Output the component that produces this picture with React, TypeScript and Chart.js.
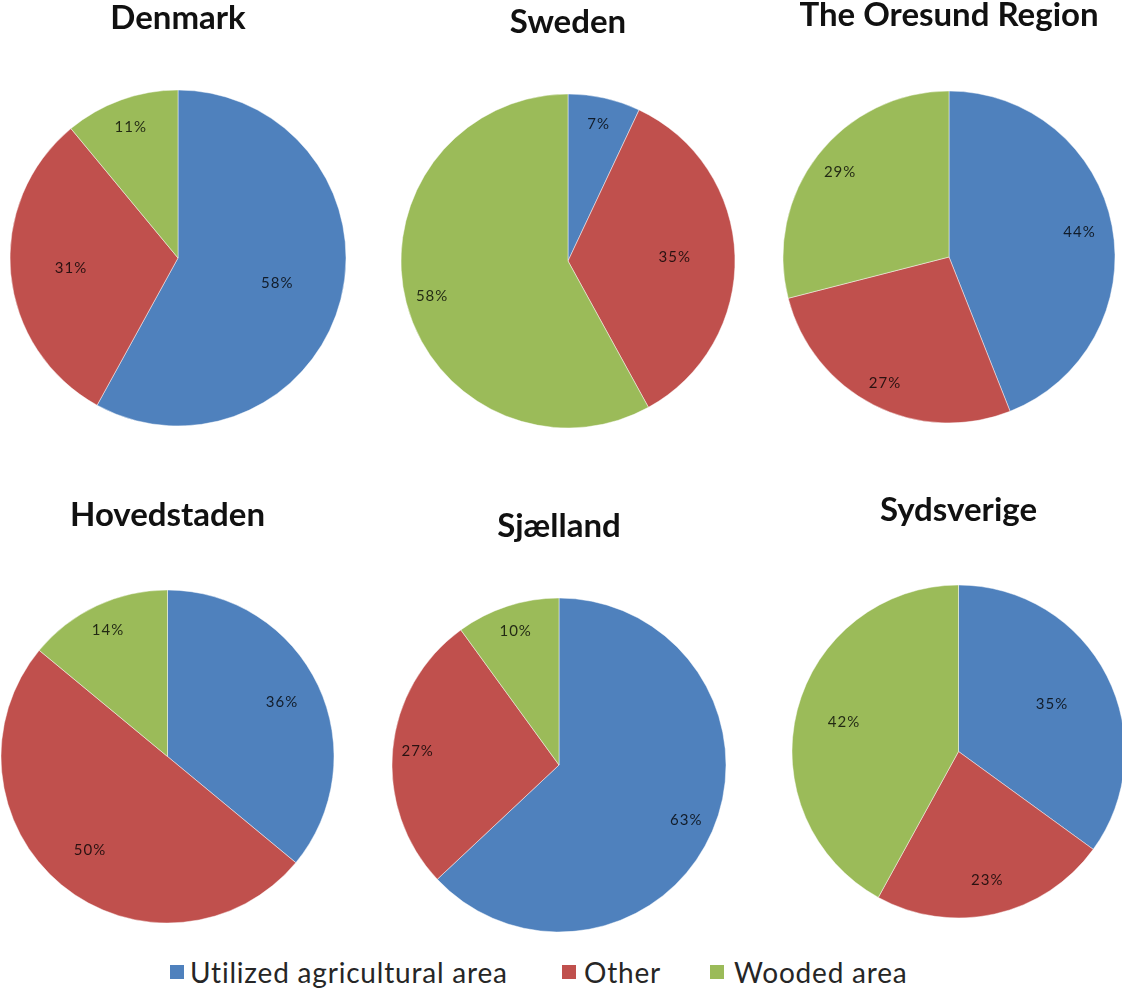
import React, { useEffect, useRef } from 'react';
import { Chart, registerables } from 'chart.js';

Chart.register(...registerables);

// ---- data ----
const categories = ['Utilized agricultural area', 'Other', 'Wooded area'];
const regionNames = ['Denmark', 'Sweden', 'The Oresund Region', 'Hovedstaden', 'Sjælland', 'Sydsverige'];

const denmarkShares = [58, 31, 11];
const swedenShares = [7, 35, 58];
const oresundShares = [44, 27, 29];
const hovedstadenShares = [36, 50, 14];
const sjaellandShares = [63, 27, 10];
const sydsverigeShares = [35, 23, 42];

const regionShares = [
  denmarkShares,
  swedenShares,
  oresundShares,
  hovedstadenShares,
  sjaellandShares,
  sydsverigeShares,
];

// ---- styling / layout ----
const sliceColors = ['#4F81BD', '#C0504D', '#9BBB59'];
const FONT = 'Lato, "Open Sans", "DejaVu Sans", sans-serif';
const TITLE_SIZE = 33;
const TITLE_LINE = 1.2;

// centre and radius of every pie, plus the vertical centre of its title
const pieFrames = [
  { cx: 178, cy: 258, r: 168, titleY: 19 },
  { cx: 567.5, cy: 261, r: 167, titleY: 23 },
  { cx: 949, cy: 257, r: 166, titleY: 16 },
  { cx: 167.5, cy: 756.5, r: 166.5, titleY: 516 },
  { cx: 559, cy: 765, r: 167, titleY: 527 },
  { cx: 958.5, cy: 751.5, r: 166.5, titleY: 511 },
];

// distance of each percentage label from the pie centre, as a share of the radius
const labelRadius = [
  [0.61, 0.64, 0.83],
  [0.84, 0.64, 0.84],
  [0.8, 0.85, 0.83],
  [0.76, 0.73, 0.84],
  [0.83, 0.85, 0.84],
  [0.63, 0.79, 0.71],
];

// legend swatch and text positions along the bottom line
const legendSlots = [
  { box: 170, text: 190 },
  { box: 562, text: 584 },
  { box: 710, text: 734 },
];
const LEGEND_Y = 972;

function makeLabelPlugin(fractions: number[]) {
  return {
    id: 'sliceLabels',
    afterDatasetsDraw(chart: any) {
      const { ctx } = chart;
      const meta = chart.getDatasetMeta(0);
      const values = chart.data.datasets[0].data as number[];
      ctx.save();
      ctx.font = `15px ${FONT}`;
      (ctx as any).letterSpacing = '1px';
      ctx.fillStyle = 'rgba(0,0,0,0.78)';
      ctx.textAlign = 'center';
      ctx.textBaseline = 'middle';
      meta.data.forEach((arc: any, i: number) => {
        const { x, y, startAngle, endAngle, outerRadius } = arc.getProps(
          ['x', 'y', 'startAngle', 'endAngle', 'outerRadius'],
          true
        );
        const mid = (startAngle + endAngle) / 2;
        const d = outerRadius * fractions[i];
        ctx.fillText(`${values[i]}%`, x + Math.cos(mid) * d, y + Math.sin(mid) * d);
      });
      ctx.restore();
    },
  };
}

function RegionPie({ index }: { index: number }) {
  const ref = useRef<HTMLCanvasElement | null>(null);
  const f = pieFrames[index];
  const titleBox = TITLE_SIZE * TITLE_LINE;
  const width = Math.round(2 * f.r + 10);
  const left = Math.round(f.cx - width / 2);
  const top = Math.round(f.titleY - titleBox / 2);
  const areaTop = f.cy - f.r - 5;
  const bottom = f.cy + f.r + 5;
  const height = Math.round(bottom - top);
  const padBottom = areaTop - (top + titleBox);

  useEffect(() => {
    if (!ref.current) return;
    const chart = new Chart(ref.current, {
      type: 'pie',
      data: {
        labels: categories,
        datasets: [
          {
            data: regionShares[index],
            backgroundColor: sliceColors,
            borderColor: 'rgba(255,255,255,0.45)',
            borderWidth: 1,
            hoverOffset: 0,
            radius: f.r,
          } as any,
        ],
      },
      options: {
        responsive: false,
        animation: false,
        events: [],
        layout: { padding: 0 },
        plugins: {
          legend: { display: false },
          tooltip: { enabled: false },
          title: {
            display: true,
            text: regionNames[index],
            color: '#111',
            font: { family: FONT, size: TITLE_SIZE, weight: 'bold', lineHeight: TITLE_LINE },
            padding: { top: 0, bottom: padBottom },
          },
        },
      },
      plugins: [makeLabelPlugin(labelRadius[index])],
    });
    return () => chart.destroy();
  }, [index]);

  return (
    <canvas
      ref={ref}
      width={width}
      height={height}
      style={{ position: 'absolute', left, top, width, height }}
    />
  );
}

export default function App() {
  return (
    <div
      style={{
        position: 'absolute',
        left: 0,
        top: 0,
        width: 1122,
        height: 989,
        overflow: 'hidden',
        background: '#fff',
        fontFamily: FONT,
      }}
    >
      {regionNames.map((_, i) => (
        <RegionPie key={i} index={i} />
      ))}
      {categories.map((name, i) => (
        <React.Fragment key={name}>
          <div
            style={{
              position: 'absolute',
              left: legendSlots[i].box,
              top: LEGEND_Y - 7,
              width: 14,
              height: 14,
              background: sliceColors[i],
            }}
          />
          <div
            style={{
              position: 'absolute',
              left: legendSlots[i].text,
              top: LEGEND_Y - 20,
              height: 40,
              lineHeight: '40px',
              fontSize: 28,
              letterSpacing: '0.8px',
              color: '#262626',
              whiteSpace: 'nowrap',
            }}
          >
            {name}
          </div>
        </React.Fragment>
      ))}
    </div>
  );
}
